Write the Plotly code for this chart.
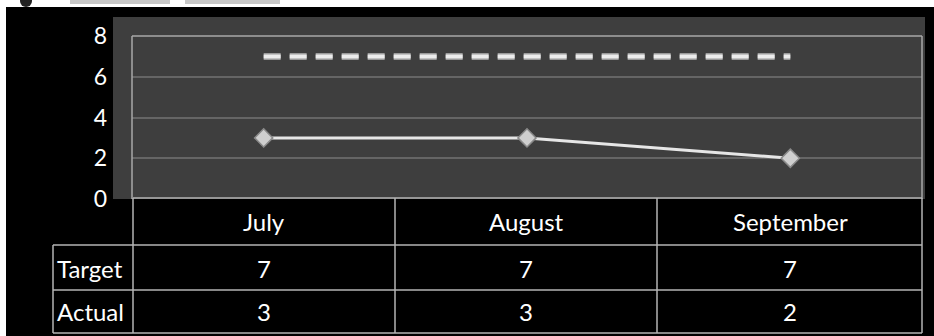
import plotly.graph_objects as go

months = ["July", "August", "September"]
target = [7, 7, 7]
actual = [3, 3, 2]
series_names = ["Target", "Actual"]
y_ticks = [0, 2, 4, 6, 8]

W, H = 934, 336
FONT = "Lato, Carlito, Calibri, sans-serif"

def px(x):
    return x / W

def py(y):
    return (H - y) / H

fig = go.Figure()

fig.add_trace(go.Scatter(
    x=months, y=target, mode="lines",
    line=dict(color="#9a9a9a", width=7, dash="17px,9px"),
    hoverinfo="skip", showlegend=False))
fig.add_trace(go.Scatter(
    x=months, y=target, mode="lines",
    line=dict(color="#ececec", width=4, dash="17px,9px"),
    showlegend=False, name="Target"))
fig.add_trace(go.Scatter(
    x=months, y=actual, mode="lines+markers",
    line=dict(color="#e6e6e6", width=3),
    marker=dict(symbol="diamond", size=14, color="#cfcfcf",
                line=dict(color="#8a8a8a", width=1.5)),
    showlegend=False, name="Actual"))

shapes = []
shapes.append(dict(type="rect", xref="paper", yref="paper", layer="below",
                   x0=px(6), x1=1, y0=0, y1=py(7),
                   fillcolor="#000000", line=dict(width=0)))
shapes.append(dict(type="rect", xref="paper", yref="paper", layer="below",
                   x0=px(113), x1=px(925), y0=py(199), y1=py(17),
                   fillcolor="#3e3e3e", line=dict(width=0)))
frame_col = "#a8a8a8"
for (x0, y0, x1, y1) in [(132, 36, 922, 36), (132, 36, 132, 199), (922, 36, 922, 199)]:
    shapes.append(dict(type="line", xref="paper", yref="paper",
                       x0=px(x0), x1=px(x1), y0=py(y0), y1=py(y1),
                       line=dict(color=frame_col, width=1.5)))

tcol = "#b5b5b5"
vlines = [(53, 245, 333), (133, 198, 333), (395, 198, 333), (657, 198, 333), (922, 198, 333)]
hlines = [(133, 922, 198), (53, 922, 245), (53, 922, 290), (53, 922, 333)]
for x, y0, y1 in vlines:
    shapes.append(dict(type="line", xref="paper", yref="paper",
                       x0=px(x), x1=px(x), y0=py(y0), y1=py(y1),
                       line=dict(color=tcol, width=1.5)))
for x0, x1, y in hlines:
    shapes.append(dict(type="line", xref="paper", yref="paper",
                       x0=px(x0), x1=px(x1), y0=py(y), y1=py(y),
                       line=dict(color=tcol, width=1.5)))

shapes.append(dict(type="circle", xref="paper", yref="paper",
                   x0=px(20), x1=px(32), y0=py(7), y1=py(-5),
                   fillcolor="#222222", line=dict(width=0)))
for (x0, x1) in [(70, 170), (185, 280)]:
    shapes.append(dict(type="rect", xref="paper", yref="paper",
                       x0=px(x0), x1=px(x1), y0=py(4), y1=py(0),
                       fillcolor="#c8c8c8", line=dict(width=0)))

annotations = []
col_centers = [264, 526, 790]
row_y = {"header": 221, "Target": 268, "Actual": 311}
tfont = dict(family=FONT, size=24, color="#ffffff")
for i, m in enumerate(months):
    annotations.append(dict(xref="paper", yref="paper", x=px(col_centers[i]), y=py(row_y["header"]),
                            text=m, showarrow=False, font=tfont, xanchor="center", yanchor="middle"))
for name, vals in zip(series_names, [target, actual]):
    annotations.append(dict(xref="paper", yref="paper", x=px(55), y=py(row_y[name]),
                            text=name, showarrow=False, font=tfont, xanchor="left", yanchor="middle"))
    for i, v in enumerate(vals):
        annotations.append(dict(xref="paper", yref="paper", x=px(col_centers[i]), y=py(row_y[name]),
                                text=str(v), showarrow=False, font=tfont, xanchor="center", yanchor="middle"))

fig.update_layout(
    width=W, height=H,
    margin=dict(l=0, r=0, t=0, b=0, pad=0),
    paper_bgcolor="#ffffff",
    plot_bgcolor="rgba(0,0,0,0)",
    shapes=shapes,
    annotations=annotations,
    xaxis=dict(domain=[px(132), px(922)], range=[-0.5, 2.5], type="category",
               showgrid=False, zeroline=False, showticklabels=False, fixedrange=True,
               automargin=False),
    yaxis=dict(domain=[py(199), py(36)], range=[0, 8], tickvals=y_ticks,
               showgrid=True, gridcolor="#656565", gridwidth=1.5, zeroline=False,
               ticks="", ticklabelstandoff=24, automargin=False,
               tickfont=dict(family=FONT, size=23, color="#ffffff"), fixedrange=True),
)

fig.write_html("out.html", config={"displayModeBar": False},
               post_script="document.body.style.margin='0px';document.body.style.overflow='hidden';")
